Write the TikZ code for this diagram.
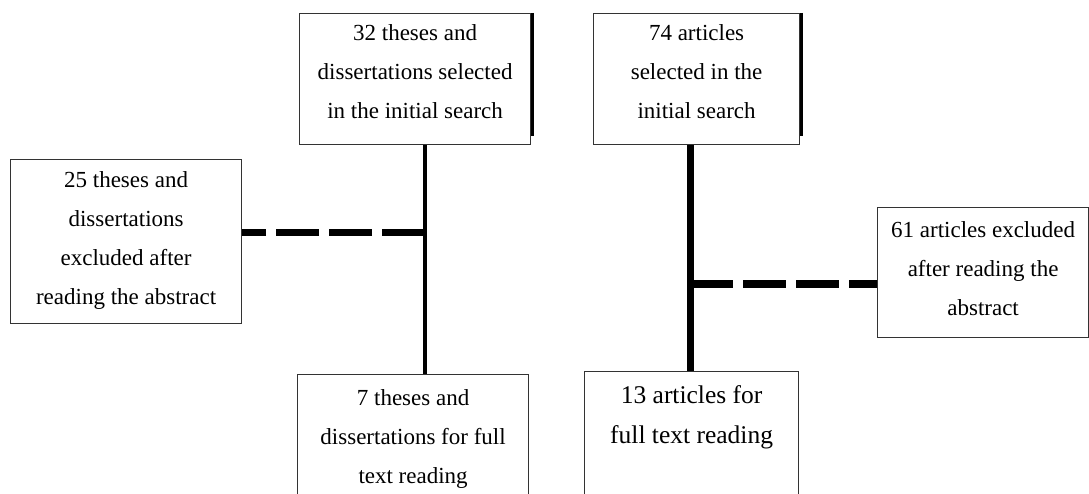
\documentclass[tikz,border=0pt]{standalone}
\usepackage{fontspec}
\setmainfont{Liberation Serif}
\begin{document}
\begin{tikzpicture}[x=1pt,y=-1pt,
  box/.style={draw=black!80,line width=1.2pt,inner sep=0pt,anchor=north west},
  txt/.style={inner sep=0pt,align=center,font=\fontsize{23}{39}\selectfont},
  bigtext/.style={font=\fontsize{25.5}{40}\selectfont},
  solidline/.style={line width=4.5pt,black},
  thickline/.style={line width=7pt,black},
  dashline/.style={line width=7pt,dash pattern=on 43pt off 10pt,black},
  edgeline/.style={line width=3pt,black}]
\useasboundingbox (0,0) rectangle (1089,494);
\clip (0,0) rectangle (1089,494);
\node[box,minimum width=231pt,minimum height=131pt] (A) at (299,13) {};
\node[box,minimum width=206pt,minimum height=131pt] (B) at (593,13) {};
\node[box,minimum width=211pt,minimum height=130pt] (C) at (877,207) {};
\node[box,minimum width=231pt,minimum height=164pt] (D) at (10,159) {};
\node[box,minimum width=231pt,minimum height=138pt] (E) at (297,374) {};
\node[box,minimum width=214pt,minimum height=140pt] (F) at (584,371) {};
\node[txt,yshift=7pt] (At) at (A.center)
  {32 theses and\\dissertations selected\\in the initial search};
\node[txt,yshift=7pt] (Bt) at (B.center)
  {74 articles\\selected in the\\initial search};
\node[txt,yshift=4pt] (Ct) at (C.center)
  {61 articles excluded\\after reading the\\abstract};
\node[txt,yshift=1pt] (Dt) at (D.center)
  {25 theses and\\dissertations\\excluded after\\reading the abstract};
\node[txt,yshift=5pt] (Et) at (E.center)
  {7 theses and\\dissertations for full\\text reading};
\node[txt,bigtext,yshift=7pt] (Ft) at (F.center)
  {13 articles for\\full text reading\\\mbox{}};
\coordinate (jL) at (425,233);
\coordinate (jR) at (690,284);
\draw[solidline] (jL |- A.south) -- (jL |- E.north);
\draw[dashline] (jL) -- (jL -| D.east);
\draw[thickline] (jR |- B.south) -- (jR |- F.north);
\draw[dashline] (jR) -- (jR -| C.west);
\draw[edgeline] ([xshift=1pt]A.north east) -- ([xshift=1pt,yshift=9pt]A.south east);
\draw[edgeline] ([xshift=1pt]B.north east) -- ([xshift=1pt,yshift=9pt]B.south east);
\end{tikzpicture}
\end{document}
